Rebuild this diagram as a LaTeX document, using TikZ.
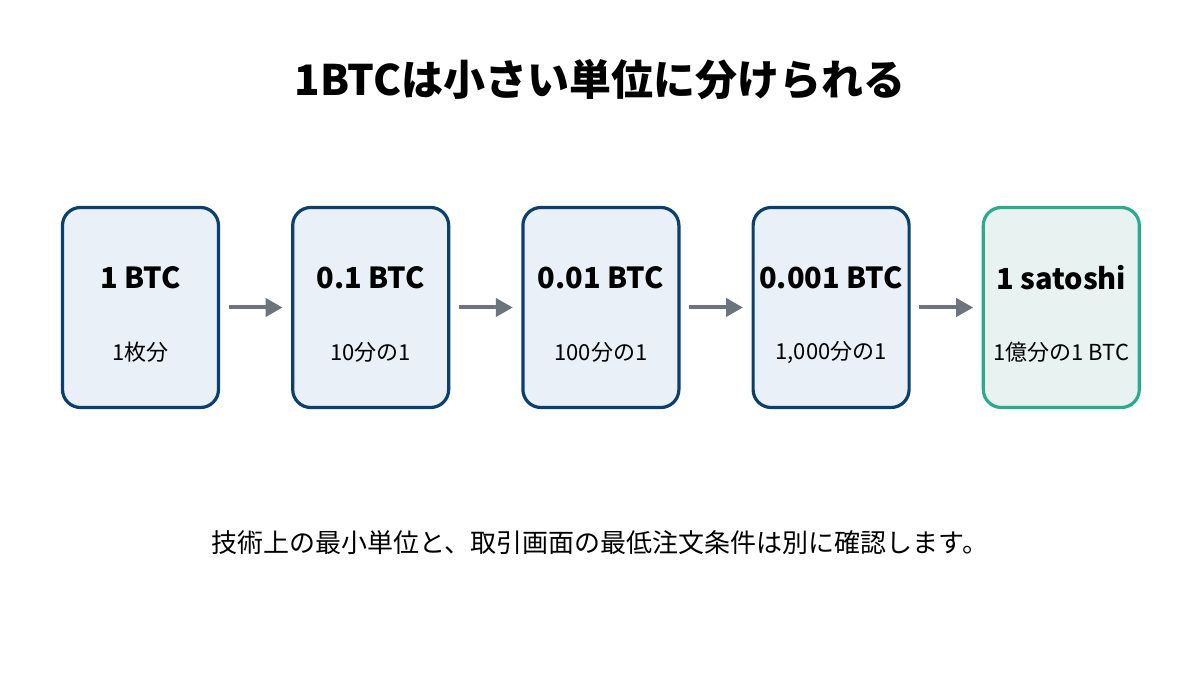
\documentclass[tikz,border=0pt]{standalone}
\usepackage{fontspec}
\setmainfont{Noto Sans CJK JP}
\usetikzlibrary{positioning,arrows.meta}

\definecolor{boxblue}{HTML}{0B3F6E}
\definecolor{fillblue}{HTML}{EAF0F7}
\definecolor{boxgreen}{HTML}{2BAA8C}
\definecolor{fillgreen}{HTML}{E8F3F1}
\definecolor{arrowgray}{HTML}{6C757D}

\begin{document}
\begin{tikzpicture}[x=1pt,y=1pt,
        node distance=71pt,
        unitbox/.style={draw=boxblue,fill=fillblue,line width=3.2pt,rounded corners=18pt,
            minimum width=156pt,minimum height=200pt,inner sep=0pt},
        lastbox/.style={unitbox,draw=boxgreen,fill=fillgreen},
        amount/.style={font=\bfseries\fontsize{29}{33}\selectfont,inner sep=0pt},
        ratio/.style={font=\fontsize{22}{26}\selectfont,inner sep=0pt},
        step arrow/.style={draw=arrowgray,line width=4pt,-{Triangle[length=17pt,width=18pt]},
            shorten <=8.5pt,shorten >=8.5pt}]

    \fill[white] (0,0) rectangle (1200,675);
    \useasboundingbox (0,0) rectangle (1200,675);

    \node[font=\bfseries\fontsize{42}{48}\selectfont] (title) at (600,595) {1BTCは小さい単位に分けられる};

    % unit boxes
    \node[unitbox] (b1) at (140.5,367.5) {};
    \node[unitbox,right=of b1] (b2) {};
    \node[unitbox,right=of b2] (b3) {};
    \node[unitbox,right=of b3] (b4) {};
    \node[lastbox,right=of b4] (b5) {};

    \node[amount] (a1) at ([yshift=30pt]b1.center) {1 BTC};
    \node[amount] (a2) at ([yshift=30pt]b2.center) {0.1 BTC};
    \node[amount] (a3) at ([yshift=30pt]b3.center) {0.01 BTC};
    \node[amount] (a4) at ([yshift=30pt]b4.center) {0.001 BTC};
    \node[amount] (a5) at ([yshift=30pt]b5.center) {1 satoshi};

    \node[ratio] (r1) at ([yshift=-45pt]b1.center) {1枚分};
    \node[ratio] (r2) at ([yshift=-45pt]b2.center) {10分の1};
    \node[ratio] (r3) at ([yshift=-45pt]b3.center) {100分の1};
    \node[ratio] (r4) at ([yshift=-45pt]b4.center) {1,000分の1};
    \node[ratio] (r5) at ([yshift=-45pt]b5.center) {1億分の1 BTC};

    % arrows between boxes
    \foreach \i/\j in {1/2,2/3,3/4,4/5}
        \draw[step arrow] (b\i.east) -- (b\j.west);

    \node[font=\fontsize{26}{31}\selectfont] (note) at (600,132)
        {技術上の最小単位と、取引画面の最低注文条件は別に確認します。};
\end{tikzpicture}
\end{document}
